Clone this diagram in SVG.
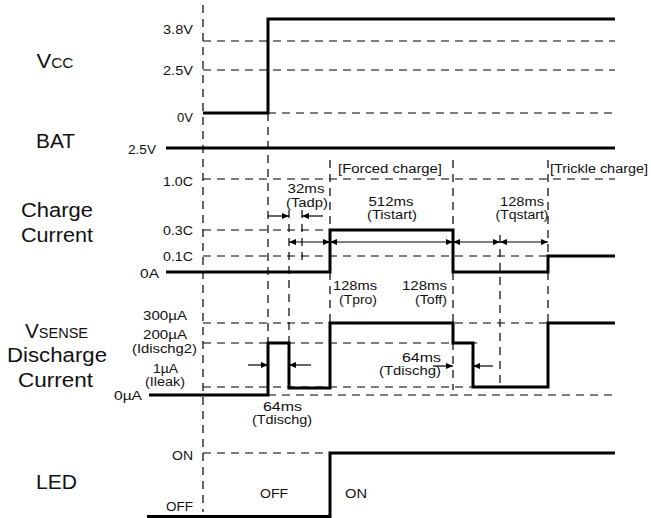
<svg xmlns="http://www.w3.org/2000/svg" width="651" height="518" viewBox="0 0 651 518">
<defs>
<style>
.bg{fill:#fff}
.sig{fill:none;stroke:#000;stroke-width:3;stroke-linejoin:miter;stroke-linecap:butt}
.dash{fill:none;stroke:#000;stroke-width:1.2;stroke-dasharray:8 6}
.arr{fill:none;stroke:#000;stroke-width:1.2}
.big{font-family:"Liberation Sans",Arial,sans-serif;font-size:20px;fill:#111;text-anchor:middle}
.sm{font-family:"Liberation Sans",Arial,sans-serif;font-size:12.5px;fill:#111}
.e{text-anchor:end}
.m{text-anchor:middle}
</style>
<marker id="ah" markerWidth="7" markerHeight="6" refX="7" refY="3" orient="auto-start-reverse" markerUnits="userSpaceOnUse">
<path d="M0,0 L7,3 L0,6 Z" fill="#000"/>
</marker>
</defs>
<rect class="bg" x="0" y="0" width="651" height="518"/>

<g id="guides">
<path class="dash" d="M203,5 V512"/>
<path class="dash" d="M268,113 V343"/>
<path class="dash" d="M289,210 V343"/>
<path class="dash" d="M302,210 V262"/>
<path class="dash" d="M330,160 V230 M330,272 V323"/>
<path class="dash" d="M453,160 V390"/>
<path class="dash" d="M500,235 V388"/>
<path class="dash" d="M548,160 V323"/>
<path class="dash" d="M203,41 H615 M203,70 H615 M268,113 H615"/>
<path class="dash" d="M203,179 H615 M203,230 H330 M203,256 H548"/>
<path class="dash" d="M203,323 H548 M203,343 H480 M203,387 H473 M268,395 H615"/>
<path class="dash" d="M203,453 H330"/>
</g>

<g id="connectors">
<path class="arr" d="M268,216 H289" marker-end="url(#ah)"/>
<path class="arr" d="M323,216 H302" marker-end="url(#ah)"/>
<path class="arr" d="M289,242 H330" marker-start="url(#ah)" marker-end="url(#ah)"/>
<path class="arr" d="M330,242 H453" marker-start="url(#ah)" marker-end="url(#ah)"/>
<path class="arr" d="M453,242 H500" marker-start="url(#ah)" marker-end="url(#ah)"/>
<path class="arr" d="M500,242 H548" marker-start="url(#ah)" marker-end="url(#ah)"/>
<path class="arr" d="M248,365 H268" marker-end="url(#ah)"/>
<path class="arr" d="M311,365 H289" marker-end="url(#ah)"/>
<path class="arr" d="M433,366 H453" marker-end="url(#ah)"/>
<path class="arr" d="M493,366 H473" marker-end="url(#ah)"/>
</g>

<g id="vcc">
<text class="big" x="55" y="68" textLength="37" lengthAdjust="spacingAndGlyphs">V<tspan font-size="14">CC</tspan></text>
<text class="sm e" x="193" y="34" textLength="30" lengthAdjust="spacingAndGlyphs">3.8V</text>
<text class="sm e" x="193" y="75" textLength="30" lengthAdjust="spacingAndGlyphs">2.5V</text>
<text class="sm e" x="193" y="122" textLength="16" lengthAdjust="spacingAndGlyphs">0V</text>
<path class="sig" d="M203,113 H268 V19 H615"/>
</g>

<g id="bat">
<text class="big" x="55.5" y="148" textLength="39" lengthAdjust="spacingAndGlyphs">BAT</text>
<text class="sm e" x="156" y="154" textLength="28" lengthAdjust="spacingAndGlyphs">2.5V</text>
<path class="sig" d="M166,148 H615"/>
</g>

<g id="charge">
<text class="big" x="57" y="217" textLength="72" lengthAdjust="spacingAndGlyphs">Charge</text>
<text class="big" x="57" y="242" textLength="72" lengthAdjust="spacingAndGlyphs">Current</text>
<text class="sm e" x="193" y="186" textLength="30" lengthAdjust="spacingAndGlyphs">1.0C</text>
<text class="sm e" x="193" y="235" textLength="30" lengthAdjust="spacingAndGlyphs">0.3C</text>
<text class="sm e" x="193" y="261" textLength="30" lengthAdjust="spacingAndGlyphs">0.1C</text>
<text class="sm e" x="159" y="278" textLength="19" lengthAdjust="spacingAndGlyphs">0A</text>
<path class="sig" d="M166,272 H330 V230 H453 V272 H548 V256 H615"/>
<text class="sm" x="338" y="173" textLength="104" lengthAdjust="spacingAndGlyphs">[Forced charge]</text>
<text class="sm" x="550" y="173" textLength="98" lengthAdjust="spacingAndGlyphs">[Trickle charge]</text>
<text class="sm m" x="306" y="193" textLength="37" lengthAdjust="spacingAndGlyphs">32ms</text>
<text class="sm m" x="307" y="206.5" textLength="42" lengthAdjust="spacingAndGlyphs">(Tadp)</text>
<text class="sm m" x="391" y="205.5" textLength="45" lengthAdjust="spacingAndGlyphs">512ms</text>
<text class="sm m" x="392" y="219" textLength="50" lengthAdjust="spacingAndGlyphs">(Tistart)</text>
<text class="sm m" x="522" y="205.5" textLength="44" lengthAdjust="spacingAndGlyphs">128ms</text>
<text class="sm m" x="522" y="219" textLength="53" lengthAdjust="spacingAndGlyphs">(Tqstart)</text>
<text class="sm m" x="355" y="290" textLength="44" lengthAdjust="spacingAndGlyphs">128ms</text>
<text class="sm m" x="358" y="303.5" textLength="38" lengthAdjust="spacingAndGlyphs">(Tpro)</text>
<text class="sm e" x="447" y="290" textLength="45" lengthAdjust="spacingAndGlyphs">128ms</text>
<text class="sm e" x="447" y="303.5" textLength="32" lengthAdjust="spacingAndGlyphs">(Toff)</text>
</g>

<g id="vsense">
<text class="big" x="56.5" y="338" textLength="63" lengthAdjust="spacingAndGlyphs">V<tspan font-size="14">SENSE</tspan></text>
<text class="big" x="57" y="362" textLength="100" lengthAdjust="spacingAndGlyphs">Discharge</text>
<text class="big" x="55.5" y="387" textLength="75" lengthAdjust="spacingAndGlyphs">Current</text>
<text class="sm m" x="165" y="320" textLength="44" lengthAdjust="spacingAndGlyphs">300µA</text>
<text class="sm m" x="165" y="339" textLength="44" lengthAdjust="spacingAndGlyphs">200µA</text>
<text class="sm m" x="164.5" y="352.5" textLength="65" lengthAdjust="spacingAndGlyphs">(Idischg2)</text>
<text class="sm m" x="165.5" y="372.5" textLength="25" lengthAdjust="spacingAndGlyphs">1µA</text>
<text class="sm m" x="165" y="386" textLength="40" lengthAdjust="spacingAndGlyphs">(Ileak)</text>
<text class="sm e" x="142" y="400" textLength="28" lengthAdjust="spacingAndGlyphs">0µA</text>
<path class="sig" d="M149,395 H268 V343 H289 V388 H330 V323 H453 V343 H473 V387 H548 V323 H615"/>
<text class="sm m" x="282.5" y="410.5" textLength="39" lengthAdjust="spacingAndGlyphs">64ms</text>
<text class="sm m" x="282" y="424" textLength="60" lengthAdjust="spacingAndGlyphs">(Tdischg)</text>
<text class="sm e" x="441" y="361.5" textLength="39" lengthAdjust="spacingAndGlyphs">64ms</text>
<text class="sm e" x="441" y="375" textLength="62" lengthAdjust="spacingAndGlyphs">(Tdischg)</text>
</g>

<g id="led">
<text class="big" x="56.5" y="489" textLength="41" lengthAdjust="spacingAndGlyphs">LED</text>
<text class="sm e" x="193" y="460" textLength="21" lengthAdjust="spacingAndGlyphs">ON</text>
<text class="sm e" x="193" y="511" textLength="27" lengthAdjust="spacingAndGlyphs">OFF</text>
<text class="sm m" x="274" y="498" textLength="28" lengthAdjust="spacingAndGlyphs">OFF</text>
<text class="sm m" x="356" y="498" textLength="22" lengthAdjust="spacingAndGlyphs">ON</text>
<path class="sig" d="M147,516.5 H330 V453 H615"/>
</g>
</svg>
